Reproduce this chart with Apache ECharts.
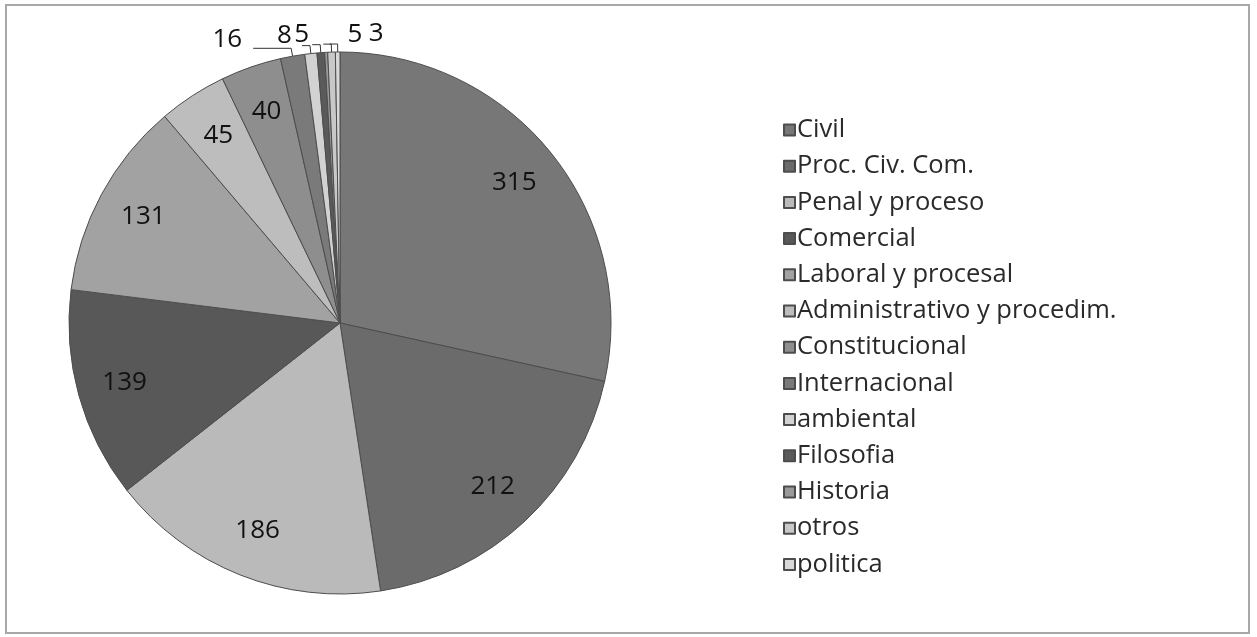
<!DOCTYPE html>
<html>
<head>
<meta charset="utf-8">
<script src="https://cdn.jsdelivr.net/npm/echarts@6/dist/echarts.min.js"></script>
<style>
html,body{margin:0;padding:0;background:#fff;}
#c{width:1257px;height:637px;}
</style>
</head>
<body>
<div id="c"></div>
<script>
const categories = ["Civil","Proc. Civ. Com.","Penal y proceso","Comercial","Laboral y procesal","Administrativo y procedim.","Constitucional","Internacional","ambiental","Filosofia","Historia","otros","politica"];
const values = [315,212,186,139,131,45,40,16,8,5,2,5,3];
const showValueLabel = [true,true,true,true,true,true,true,true,true,true,false,true,true];
const colors = ["#777777","#6b6b6b","#bababa","#585858","#a2a2a2","#bdbdbd","#8e8e8e","#7a7a7a","#d2d2d2","#5a5a5a","#9a9a9a","#c8c8c8","#d8d8d8"];
// label styling for the tiny slices (style only)
const leaderLen2 = [8,8,8,8,8,8,8,38,8,8,8,8,8];
const labelNudgeX = [0,0,0,0,0,0,0,-6,-5,2,0,44,59];
const labelNudgeY = [0,0,0,0,0,0,0,-9,-10,-10,0,-10,-10];

const chart = echarts.init(document.getElementById('c'));
const center = [340, 323];
const R = 271;

const baseData = categories.map((n,i)=>({name:n, value:values[i], itemStyle:{color:colors[i]}}));
const labelData = categories.map((n,i)=>{
  const small = values[i] < 20;
  return {
    name:n, value:values[i],
    label: small ? {show:showValueLabel[i], position:'outside'} : {show:true, position:'inside'},
    labelLine: {show: small && showValueLabel[i], length:8, length2:leaderLen2[i]}
  };
});

chart.setOption({
  animation:false,
  backgroundColor:'#ffffff',
  graphic:[{type:'rect', shape:{x:6,y:5,width:1243,height:628}, style:{fill:'none', stroke:'#a8a8a8', lineWidth:2}}],
  legend:{
    orient:'vertical', left:778, top:112,
    icon:'rect', itemWidth:11, itemHeight:11, itemGap:10.2,
    textStyle:{fontFamily:'Open Sans', fontSize:25.5, color:'#2a2a2a', lineHeight:22, padding:[0,0,0,-3]},
    data:categories
  },
  series:[
    {
      type:'pie', center:center, radius:[0,R], startAngle:90, clockwise:true,
      silent:true, label:{show:false}, labelLine:{show:false},
      itemStyle:{borderColor:'#4d4d4d', borderWidth:1},
      data:baseData
    },
    {
      type:'pie', center:center, radius:[170,R], startAngle:90, clockwise:true,
      silent:true, avoidLabelOverlap:false,
      itemStyle:{color:'rgba(0,0,0,0)', borderWidth:0},
      label:{formatter:'{c}', fontFamily:'Open Sans', fontSize:26, color:'#111'},
      labelLine:{lineStyle:{color:'#333', width:1}},
      labelLayout:function(p){
        return {dx:labelNudgeX[p.dataIndex], dy:labelNudgeY[p.dataIndex], hideOverlap:false};
      },
      legendHoverLink:false,
      data:labelData
    }
  ]
});
</script>
</body>
</html>
